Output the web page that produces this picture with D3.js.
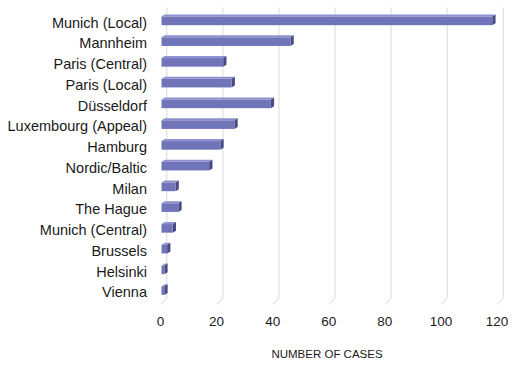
<!DOCTYPE html>
<html>
<head>
<meta charset="utf-8">
<script src="https://cdn.jsdelivr.net/npm/d3@7"></script>
<style>
  body { margin: 0; background: #fff; }
  text { font-family: "Liberation Sans", Arial, sans-serif; fill: #1a1a1a; }
</style>
</head>
<body>
<svg id="chart" width="520" height="366"></svg>
<script>
// data
var courts = ["Munich (Local)", "Mannheim", "Paris (Central)", "Paris (Local)", "Düsseldorf",
  "Luxembourg (Appeal)", "Hamburg", "Nordic/Baltic", "Milan", "The Hague", "Munich (Central)",
  "Brussels", "Helsinki", "Vienna"];
var cases = [118, 46, 22, 25, 39, 26, 21, 17, 5, 6, 4, 2, 1, 1];
var ticks = [0, 20, 40, 60, 80, 100, 120];
var axisTitle = "NUMBER OF CASES";

//---------------------SETUP--------------------------------
var svg = d3.select('#chart');

// front plane of the 3d box, back wall is shifted by (wallDx, wallDy)
var x = d3.scaleLinear().domain([0, 120]).range([160.5, 497]);
var xBar = d3.scaleLinear().domain([0, 120]).range([161.5, 161.5 + 120 * 2.803]);
var y = d3.scaleBand().domain(courts).range([14, 304.5]);
var wallDx = 6.3, wallDy = -6.6;
var depthDx = 3.3, depthDy = -2;

//---------------------GRID (back wall + floor)--------------------------------
svg.selectAll('line.grid')
  .data(ticks)
  .enter()
  .append('line')
  .attr('class', 'grid')
  .attr('x1', (d) => x(d) + wallDx)
  .attr('x2', (d) => x(d) + wallDx)
  .attr('y1', 14 + wallDy)
  .attr('y2', 304.5 + wallDy)
  .attr('stroke', '#d9d9d9')
  .attr('stroke-width', 1);

svg.selectAll('line.floor')
  .data(ticks)
  .enter()
  .append('line')
  .attr('class', 'floor')
  .attr('x1', (d) => x(d))
  .attr('y1', 304.5)
  .attr('x2', (d) => x(d) + wallDx)
  .attr('y2', 304.5 + wallDy)
  .attr('stroke', '#d9d9d9')
  .attr('stroke-width', 1);

//---------------------BARS--------------------------------
var rows = courts.map((c, i) => ({ court: c, value: cases[i] }));

var bars = svg.selectAll('g.bar')
  .data(rows)
  .enter()
  .append('g')
  .attr('class', 'bar');

function barTop(d) { return y(d.court) + y.bandwidth() / 2 - 7.8; }
function barBottom(d) { return y(d.court) + y.bandwidth() / 2 + 0.8; }

// top face
bars.append('path')
  .attr('d', (d) => {
    var x0 = xBar(0), x1 = xBar(d.value), t = barTop(d);
    return 'M' + x0 + ',' + t + 'L' + x1 + ',' + t +
      'L' + (x1 + depthDx) + ',' + (t + depthDy) + 'L' + (x0 + depthDx) + ',' + (t + depthDy) + 'Z';
  })
  .attr('fill', '#8d91cf');

// side face
bars.append('path')
  .attr('d', (d) => {
    var x1 = xBar(d.value), t = barTop(d), b = barBottom(d);
    return 'M' + x1 + ',' + t + 'L' + (x1 + depthDx) + ',' + (t + depthDy) +
      'L' + (x1 + depthDx) + ',' + (b + depthDy) + 'L' + x1 + ',' + b + 'Z';
  })
  .attr('fill', '#484b82');

// front face
bars.append('rect')
  .attr('x', xBar(0))
  .attr('y', (d) => barTop(d))
  .attr('width', (d) => xBar(d.value) - xBar(0))
  .attr('height', (d) => barBottom(d) - barTop(d))
  .attr('fill', '#7074b9');

//---------------------LABELS--------------------------------
svg.selectAll('text.cat')
  .data(courts)
  .enter()
  .append('text')
  .attr('class', 'cat')
  .attr('x', 147)
  .attr('y', (d) => y(d) + y.bandwidth() / 2 + 3.3)
  .attr('text-anchor', 'end')
  .attr('font-size', 14.5)
  .text((d) => d);

svg.selectAll('text.tick')
  .data(ticks)
  .enter()
  .append('text')
  .attr('class', 'tick')
  .attr('x', (d) => x(d))
  .attr('y', 326)
  .attr('text-anchor', 'middle')
  .attr('font-size', 13.5)
  .text((d) => d);

svg.append('text')
  .attr('x', 327)
  .attr('y', 358)
  .attr('text-anchor', 'middle')
  .attr('font-size', 11.5)
  .text(axisTitle);
</script>
</body>
</html>
